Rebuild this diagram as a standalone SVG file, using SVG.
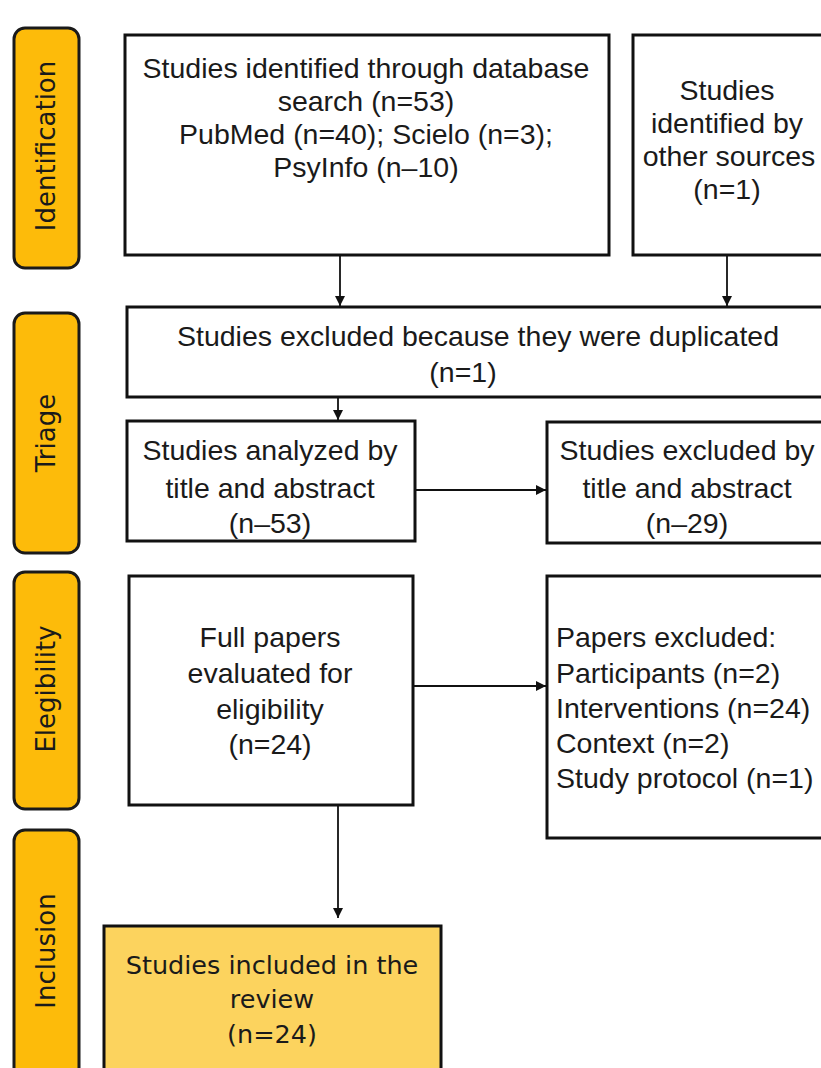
<svg xmlns="http://www.w3.org/2000/svg" width="821" height="1068" viewBox="0 0 821 1068">
<defs>
<marker id="ah" viewBox="0 0 10 10" refX="10" refY="5" markerWidth="10" markerHeight="10" markerUnits="userSpaceOnUse" orient="auto">
<path d="M0,0 L10,5 L0,10 z" fill="#111"/>
</marker>
<style>
.bar{fill:#FDBB0A;stroke:#1a1a1a;stroke-width:3}
.box{fill:#fff;stroke:#111;stroke-width:3}
.inc{fill:#FCD35E;stroke:#111;stroke-width:3}
.t{font-family:"Liberation Sans",Arial,sans-serif;font-size:28.5px;fill:#1a1a1a;text-anchor:middle}
.tl{font-family:"Liberation Sans",Arial,sans-serif;font-size:28.5px;fill:#1a1a1a}
.side{font-family:"DejaVu Sans",Verdana,sans-serif;font-size:26px;fill:#1a1a1a;text-anchor:middle}
.ti{font-family:"DejaVu Sans",Verdana,sans-serif;font-size:25.5px;fill:#1a1a1a;text-anchor:middle}
.c{stroke:#111;stroke-width:1.8;fill:none}
</style>
</defs>
<rect width="821" height="1068" fill="#fff"/>
<g id="bar-identification"><rect class="bar" x="14" y="28" width="65" height="240" rx="11"/><text class="side" transform="translate(55,146) rotate(-90)">Identification</text></g>
<g id="bar-triage"><rect class="bar" x="14" y="313" width="65" height="240" rx="11"/><text class="side" transform="translate(55,433) rotate(-90)">Triage</text></g>
<g id="bar-elegibility"><rect class="bar" x="14" y="572" width="65" height="237" rx="11"/><text class="side" transform="translate(55,689) rotate(-90)">Elegibility</text></g>
<g id="bar-inclusion"><rect class="bar" x="14" y="830" width="65" height="250" rx="11"/><text class="side" transform="translate(55,951) rotate(-90)">Inclusion</text></g>

<g id="db-search"><rect class="box" x="125" y="35" width="484" height="220"/>
<text class="t" x="366" y="78">Studies identified through database</text>
<text class="t" x="366" y="111">search (n=53)</text>
<text class="t" x="366" y="144">PubMed (n=40);  Scielo (n=3);</text>
<text class="t" x="366" y="177">PsyInfo (n–10)</text></g>

<g id="other-sources"><rect class="box" x="633" y="35" width="200" height="220"/>
<text class="t" x="727" y="100">Studies</text>
<text class="t" x="727" y="133">identified by</text>
<text class="t" x="729" y="166">other sources</text>
<text class="t" x="727" y="199">(n=1)</text></g>

<g id="duplicated"><rect class="box" x="127" y="307" width="706" height="90"/>
<text class="t" x="478" y="346">Studies excluded because they were duplicated</text>
<text class="t" x="463" y="382">(n=1)</text></g>

<g id="analyzed"><rect class="box" x="127" y="421" width="288" height="120"/>
<text class="t" x="270" y="460">Studies analyzed by</text>
<text class="t" x="270" y="498">title and abstract</text>
<text class="t" x="270" y="533">(n–53)</text></g>

<g id="excluded-title"><rect class="box" x="547" y="422" width="286" height="121"/>
<text class="t" x="687" y="460">Studies excluded by</text>
<text class="t" x="687" y="498">title and abstract</text>
<text class="t" x="687" y="533">(n–29)</text></g>

<g id="full-papers"><rect class="box" x="129" y="576" width="284" height="229"/>
<text class="t" x="270" y="647">Full papers</text>
<text class="t" x="270" y="683">evaluated for</text>
<text class="t" x="270" y="719">eligibility</text>
<text class="t" x="270" y="754">(n=24)</text></g>

<g id="papers-excluded"><rect class="box" x="547" y="576" width="286" height="262"/>
<text class="tl" x="556" y="647">Papers excluded:</text>
<text class="tl" x="556" y="683">Participants (n=2)</text>
<text class="tl" x="556" y="718">Interventions (n=24)</text>
<text class="tl" x="556" y="753">Context (n=2)</text>
<text class="tl" x="556" y="788">Study protocol (n=1)</text></g>

<g id="included"><rect class="inc" x="104" y="926" width="337" height="160"/>
<text class="ti" x="272" y="974">Studies included in the</text>
<text class="ti" x="272" y="1008">review</text>
<text class="ti" x="272" y="1043">(n=24)</text></g>

<g id="connectors">
<line class="c" x1="340" y1="256" x2="340" y2="306" marker-end="url(#ah)"/>
<line class="c" x1="727" y1="256" x2="727" y2="306" marker-end="url(#ah)"/>
<line class="c" x1="338" y1="398" x2="338" y2="420" marker-end="url(#ah)"/>
<line class="c" x1="416" y1="490" x2="546" y2="490" marker-end="url(#ah)"/>
<line class="c" x1="414" y1="686" x2="546" y2="686" marker-end="url(#ah)"/>
<line class="c" x1="338" y1="806" x2="338" y2="918" marker-end="url(#ah)"/>
</g>
</svg>
